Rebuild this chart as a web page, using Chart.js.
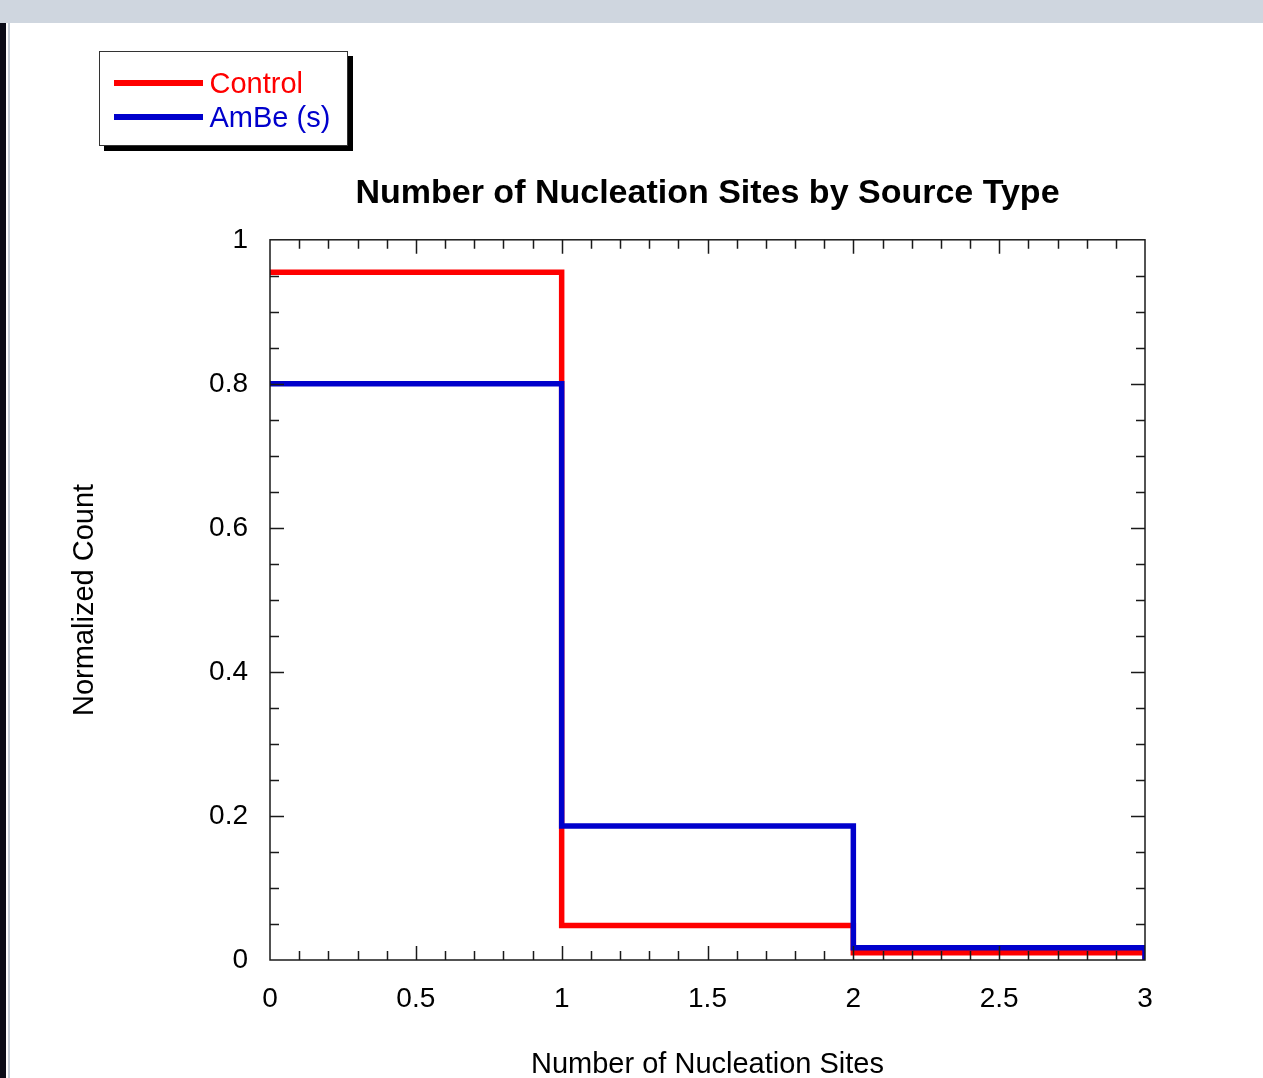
<!DOCTYPE html>
<html>
<head>
<meta charset="utf-8">
<title>Number of Nucleation Sites by Source Type</title>
<script src="https://cdn.jsdelivr.net/npm/chart.js@4.4.1/dist/chart.umd.min.js"></script>
<style>
  html, body { margin: 0; padding: 0; background: #fff; width: 1263px; height: 1078px; overflow: hidden; }
  #topBand   { position: absolute; left: 0; top: 0; width: 1263px; height: 23px; background: #cfd6df; }
  #leftStrip { position: absolute; left: 0; top: 23px; width: 6px; height: 1055px; background: #0b0c18; }
  #leftLine  { position: absolute; left: 8px; top: 23px; width: 2px; height: 1055px; background: #c6ced8; }
  #wrap      { position: absolute; left: 0; top: 0; width: 1263px; height: 1100px; }
  #legend {
    position: absolute; left: 99px; top: 51px; width: 249px; height: 95px;
    box-sizing: border-box; border: 1.5px solid #333; background: #fff;
    box-shadow: 5px 5px 0 #000;
    padding: 14px 0 0 13.5px;
    font-family: "Liberation Sans", Arial, sans-serif; font-size: 29px;
  }
  .legend-row { display: flex; align-items: center; height: 34px; }
  .legend-swatch { width: 89px; height: 6px; margin-right: 7px; }
</style>
</head>
<body>
<div id="topBand"></div>
<div id="leftStrip"></div>
<div id="leftLine"></div>
<div id="wrap"><canvas id="chart" width="1263" height="1100"></canvas></div>
<div id="legend"></div>

<script>
// ─── DATA ─────────────────────────────────────────────────────────────────────
const TITLE = "Number of Nucleation Sites by Source Type";
const X_TITLE = "Number of Nucleation Sites";
const Y_TITLE = "Normalized Count";

const BIN_EDGES = [0, 1, 2, 3];
const CONTROL   = [0.955, 0.048, 0.01];
const AMBE      = [0.8, 0.186, 0.017];

const SERIES = [
  { label: "Control",  values: CONTROL, color: "#ff0000", order: 1 },
  { label: "AmBe (s)", values: AMBE,    color: "#0000cc", order: 0 },
];

// axis ranges and tick spacing
const X_MIN = 0, X_MAX = 3, X_MAJOR = 0.5, X_MINOR = 0.1;
const Y_MIN = 0, Y_MAX = 1, Y_MAJOR = 0.2, Y_MINOR = 0.05;

// ─── STYLE ────────────────────────────────────────────────────────────────────
const FONT = "'Liberation Sans', Arial, sans-serif";
const AXIS_COLOR = "#1a1a1a";
const MAJOR_LEN = 14;
const MINOR_LEN = 9;

Chart.defaults.font.family = FONT;
Chart.defaults.color = "#000";

// histogram outline: one point per bin edge, dropping to 0 at the last edge
function stepPoints(values) {
  return BIN_EDGES.map((x, i) => ({ x, y: i < values.length ? values[i] : 0 }));
}

// plain numbers: "1" not "1.0"
const plainTick = v => String(Math.round(v * 100) / 100);

// ─── LEGEND (boxed, with drop shadow) ─────────────────────────────────────────
const legend = document.getElementById("legend");
SERIES.forEach(s => {
  const row = document.createElement("div");
  row.className = "legend-row";
  row.innerHTML = `<span class="legend-swatch" style="background:${s.color}"></span>` +
                  `<span style="color:${s.color}">${s.label}</span>`;
  legend.appendChild(row);
});

// ─── INWARD TICKS ON ALL FOUR SIDES + FRAME ───────────────────────────────────
const frameTicks = {
  id: "frameTicks",
  afterDatasetsDraw(chart) {
    const { ctx, chartArea: a, scales: { x, y } } = chart;
    ctx.save();
    ctx.strokeStyle = AXIS_COLOR;
    ctx.lineWidth = 1.5;
    ctx.beginPath();

    const xCount = Math.round((X_MAX - X_MIN) / X_MINOR);
    const xPer = Math.round(X_MAJOR / X_MINOR);
    for (let i = 1; i < xCount; i++) {
      const px = Math.round(x.getPixelForValue(X_MIN + i * X_MINOR)) + 0.5;
      const len = i % xPer === 0 ? MAJOR_LEN : MINOR_LEN;
      ctx.moveTo(px, a.bottom); ctx.lineTo(px, a.bottom - len);
      ctx.moveTo(px, a.top);    ctx.lineTo(px, a.top + len);
    }

    const yCount = Math.round((Y_MAX - Y_MIN) / Y_MINOR);
    const yPer = Math.round(Y_MAJOR / Y_MINOR);
    for (let i = 1; i < yCount; i++) {
      const py = Math.round(y.getPixelForValue(Y_MIN + i * Y_MINOR)) + 0.5;
      const len = i % yPer === 0 ? MAJOR_LEN : MINOR_LEN;
      ctx.moveTo(a.left, py);  ctx.lineTo(a.left + len, py);
      ctx.moveTo(a.right, py); ctx.lineTo(a.right - len, py);
    }
    ctx.stroke();

    ctx.strokeRect(a.left, a.top, a.right - a.left, a.bottom - a.top);
    ctx.restore();
  }
};

// ─── CHART ────────────────────────────────────────────────────────────────────
new Chart(document.getElementById("chart"), {
  type: "line",
  data: {
    datasets: SERIES.map(s => ({
      label: s.label,
      data: stepPoints(s.values),
      borderColor: s.color,
      backgroundColor: s.color,
      borderWidth: 5.5,
      stepped: true,
      pointRadius: 0,
      fill: false,
      order: s.order,
    }))
  },
  options: {
    responsive: false,
    animation: false,
    devicePixelRatio: 1,
    layout: { padding: { left: 60, right: 118, top: 0, bottom: 0 } },
    scales: {
      x: {
        type: "linear",
        min: X_MIN, max: X_MAX,
        afterFit: s => { s.height = 140; },
        grid: { display: false, drawTicks: false },
        border: { display: false },
        ticks: { stepSize: X_MAJOR, padding: 22, font: { size: 28 }, color: "#000", callback: plainTick },
        title: { display: true, text: X_TITLE, font: { size: 29 }, color: "#000",
                 padding: { top: 0, bottom: 18 } },
      },
      y: {
        type: "linear",
        min: Y_MIN, max: Y_MAX,
        afterFit: s => { s.width = 210; },
        grid: { display: false, drawTicks: false },
        border: { display: false },
        ticks: { stepSize: Y_MAJOR, padding: 22, font: { size: 28 }, color: "#000", callback: plainTick },
        title: { display: true, text: Y_TITLE, font: { size: 29 }, color: "#000",
                 padding: { top: 8, bottom: 0 } },
      }
    },
    plugins: {
      legend: { display: false },
      tooltip: { enabled: false },
      title: {
        display: true,
        text: TITLE,
        fullSize: false,
        color: "#000",
        font: { size: 34, weight: "bold" },
        padding: { top: 173, bottom: 26 },
      }
    }
  },
  plugins: [frameTicks]
});
</script>
</body>
</html>
